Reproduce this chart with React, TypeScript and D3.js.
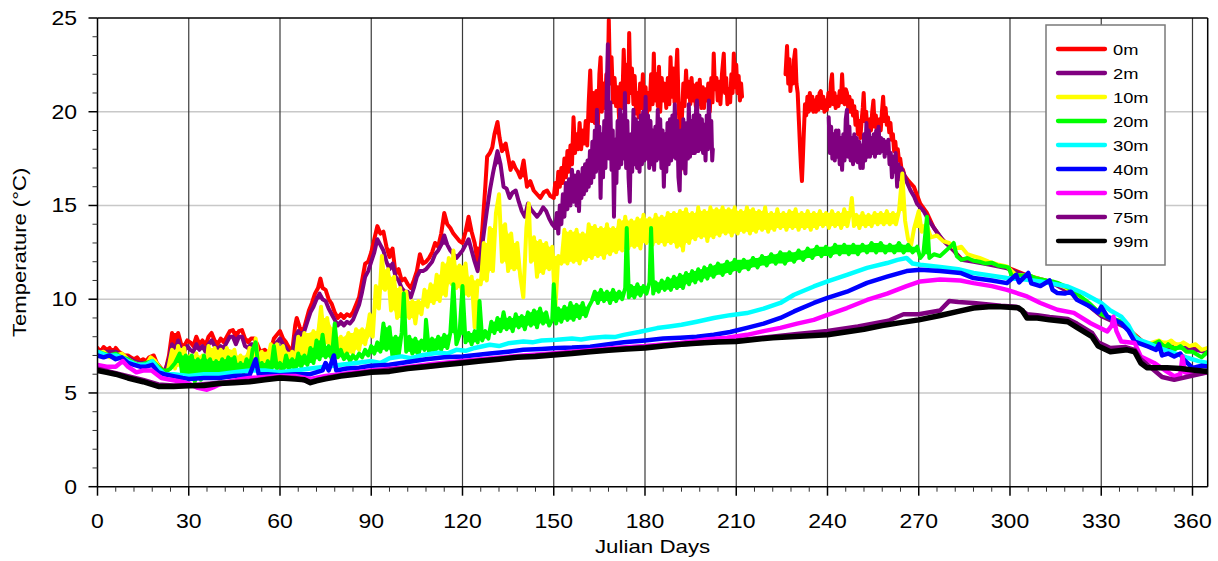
import React from 'react';
import * as d3 from 'd3';

type P = [number, number];
type Band = [number, number, number];

const xTicks = [0, 30, 60, 90, 120, 150, 180, 210, 240, 270, 300, 330, 360];
const yTicks = [0, 5, 10, 15, 20, 25];
const depthLabels = ['0m', '2m', '10m', '20m', '30m', '40m', '50m', '75m', '99m'];
const depthColors = ['#ff0000', '#800080', '#ffff00', '#00ff00', '#00ffff', '#0000ff', '#ff00ff', '#800080', '#000000'];

const t0m: P[] = [
  [0,7.4],[1,7.2],[2,7.45],[3,7.3],[4,7.4],[5,7.1],[6,7.4],[7,7.2],[8,7.1],[9,7.0],[10,7.0],[11,6.9],[12,6.8],[13,6.9],[14,6.7],[15,6.8],[16,6.7],[17,6.9],[18.5,7.0],[19.5,6.6],[20.5,6.4],[21.5,6.2],[22.5,6.3],[23.5,7.0],[24.5,8.2],[25.5,7.4],[26.5,8.2],[27.5,7.6],[28.5,7.5],[29.5,7.8],[30.5,7.7],[31.5,7.5],[32.5,8.0],[33.5,7.6],[34.5,7.8],[35.5,7.5],[36.5,8.0],[37.5,8.2],[38.5,7.8],[39.5,7.6],[40.5,7.9],[41.5,7.7],[42.5,8.0],[43.5,8.3],[44.5,8.35],[45.5,8.0],[46.5,8.3],[47.5,8.35],[48.5,7.9],[49.5,7.7],[50.5,7.9],[51.5,7.9],[52.5,7.6],[53.5,7.2],[55,7.3],[56,7.1],[57,7.3],[58,7.9],[59,8.1],[60,8.3],[61,7.9],[62,7.7],[63,7.4],[64,7.2],[65,8.6],[65.5,9.0],[66.5,8.5],[67.5,8.2],[68.5,8.8],[69.5,9.4],[70.5,9.8],[71.5,10.3],[72.5,10.6],[73.3,11.1],[74,10.6],[75,10.5],[76,10.0],[77,9.75],[78,9.3],[79,9.0],[80,9.2],[81,9.0],[82,9.2],[83,9.1],[84,9.3],[85,9.7],[86,10.1],[87,11.0],[88,11.9],[89,12.0],[90,12.5],[91,13.2],[92,13.9],[93,13.5],[94,13.6],[95,12.8],[96,12.25],[97,12.7],[98,11.35],[99,11.6],[100,11.0],[101,11.1],[102,10.8],[103,10.6],[104,11.0],[105,11.5],[106,12.4],[107,11.9],[108,12.0],[109,12.2],[110,12.5],[111,13.0],[112,12.8],[113,13.5],[114,14.6],[115,14.0],[116,13.8],[117,13.5],[118,13.3],[119,13.1],[120,13.0],[121,13.6],[122,14.4],[123,13.6],[124,13.0],[125,11.9],[126,12.8],[126.5,13.7],[127.5,16.0],[128.1,17.6],[129,17.8],[129.8,18.1],[130.5,18.8],[131.5,19.45],[132.2,18.6],[133,17.9],[134.2,18.3],[135,17.6],[135.8,16.9],[136.6,17.3],[137.4,17.0],[138.2,16.8],[139,16.5],[140.1,17.4],[141.2,16.0],[142.3,16.3],[143.4,15.8],[144.5,15.6],[145.6,15.4],[146.7,15.7],[147.8,15.8],[148.9,15.5],
  [150,15.4],[150.5,16.2],[151,15.6],[151.5,16.8],[152,16.0],[152.5,17.0],[153,16.2],[153.5,17.5],[154,16.5],[154.5,17.9],[155,16.8],[155.5,18.2],[156,17.2],[156.5,19.7],[157,17.8],[157.5,18.8],[158,18.0],[158.5,19.4],[159,18.0],[159.5,19.0],[160,18.3],[160.5,19.5],[161,18.2],[161.5,20.5],[162,22.2],[162.5,19.5],[163,21.0],[163.5,19.4],[164,21.1],[164.5,19.2],[165,22.0],[165.4,22.9],[165.8,20.0],[166.3,21.5],[166.8,20.2],[167.3,22.0],[167.7,20.8],[168.1,24.9],[168.5,21.5],[169,22.9],[169.5,20.5],[170,21.8],[170.5,20.3],[171,21.3],[171.5,19.6],[172,21.5],[172.5,20.2],[173,23.3],[173.5,20.8],[174,22.5],[174.5,20.5],[174.8,24.2],[175.2,21.0],[175.7,22.3],[176.2,20.4],[176.6,21.9],[177.1,19.9],[177.5,21.0],[177.9,19.7],[178.4,21.5],[178.8,20.2],[179.3,22.0],[179.7,20.0],[180.2,21.3],[180.6,19.8],[181.1,21.0],[181.5,20.1],[182,22.0],[182.5,20.4],[182.9,23.1],[183.3,20.6],[183.8,22.0],[184.2,20.3],[184.6,22.4],[185,20.0],[185.5,21.8],[186,20.6],[186.5,21.5],[187,20.2],[187.5,21.8],[188,20.4],[188.4,22.9],[188.8,20.8],[189.3,22.3],[189.7,20.5],[190.2,22.0],[190.6,23.3],[191,20.6],[191.4,19.0],[191.7,16.9],[192.1,19.5],[192.6,21.5],[193,20.3],[193.5,22.2],[193.9,20.8],[194.4,21.6],[194.9,20.4],[195.3,21.8],[195.8,20.6],[196.2,21.4],[196.7,20.3],[197.1,21.5],[197.6,20.4],[198,21.7],[198.5,20.2],[199,21.3],[199.4,20.2],[199.9,21.2],[200.4,20.6],[200.8,21.5],[201.3,20.0],[201.8,21.8],[202.2,20.5],[202.6,23.1],[203,21.2],[203.5,21.8],[203.9,20.6],[204.4,21.6],[204.8,20.4],[205.3,22.0],[205.9,23.1],[206.3,21.0],[206.7,21.8],[207.1,20.4],[207.5,21.2],[208,20.5],[208.4,22.0],[208.8,21.0],[209.2,23.1],[209.6,21.3],[210,22.5],[210.4,21.0],[210.8,21.9],[211.2,20.6],[211.6,21.5],[211.9,20.8],
  [219,NaN],
  [226.2,22.0],[226.7,23.5],[227.1,21.5],[227.5,22.8],[227.8,21.1],[228.2,22.0],[228.6,21.5],[229,22.8],[229.4,23.3],[229.8,21.5],[230.2,21.0],[230.6,19.5],[231,18.0],[231.3,17.0],[231.6,16.3],[231.9,17.5],[232.2,18.8],[232.6,20.4],[233,19.8],[233.4,20.8],[233.8,20.0],[234.2,21.0],[234.6,20.1],[235,20.8],[235.4,20.0],[235.8,20.6],[236.2,20.0],[236.6,20.8],[237,20.1],[237.4,21.0],[237.8,21.1],[238.2,20.2],[238.6,20.8],[239,20.0],[239.4,20.6],[239.8,20.1],[240.3,21.0],[240.7,20.3],[241.1,21.5],[241.5,22.0],[241.9,20.4],[242.3,21.0],[242.7,20.2],[243.2,20.8],[243.6,20.3],[244,21.1],[244.4,20.5],[244.8,22.0],[245.2,20.6],[245.6,20.4],[246,21.2],[246.4,21.0],[246.8,20.2],[247.2,20.8],[247.6,20.0],[248,20.6],[248.4,19.8],[248.8,20.3],[249.2,19.3],[249.6,20.0],[250,18.8],[250.4,19.5],[250.8,18.6],[251.2,19.5],[251.6,20.2],[251.9,21.0],[252.3,19.5],[252.7,20.0],[253.1,19.0],[253.5,18.6],[253.9,19.6],[254.3,19.0],[254.7,20.0],[255.1,20.6],[255.5,19.2],[255.9,19.8],[256.3,19.0],[256.7,18.8],[257.1,19.6],[257.5,19.0],[257.9,20.0],[258.3,20.8],[258.7,19.5],[259.1,20.2],[259.5,19.3],[259.9,19.7],[260.3,18.9],[260.7,19.4],[261.1,18.5],[261.5,18.8],[261.9,17.9],[262.3,18.4],[262.7,17.7],[263.1,18.0],[263.5,17.4],[263.9,17.5],[264.3,17.0],[264.8,16.9],[265.3,16.6],[266.7,16.3],[268.4,16.0],[270.5,15.1],[272.7,14.6],[275,13.8],[277.1,13.3],[279.3,12.95],[281.5,12.6],[284,12.15],[288,12.05],[293,11.9],[299,11.7],[306,11.25],[314,10.9],[322,10.2],[330,9.15],[338,8.55],[345,7.55],[351,7.45],[357,7.5],[365,7.2],
];

const t2m: P[] = [
  [0,7.2],[2,7.2],[4,7.2],[6,7.2],[8,7.0],[10,6.9],[12,6.7],[14,6.6],[16,6.6],[18,6.8],[20,6.3],[22,6.1],[23.5,6.8],[24.5,7.6],[25.5,7.2],[26.5,7.8],[27.5,7.3],[28.5,7.2],[29.5,7.5],[30.5,7.3],[31.5,7.2],[32.5,7.6],[33.5,7.3],[34.5,7.5],[35.5,7.2],[36.5,7.6],[37.5,7.8],[38.5,7.5],[39.5,7.3],[40.5,7.5],[41.5,7.4],[42.5,7.7],[43.5,8.0],[44.5,8.0],[45.5,7.6],[46.5,8.0],[47.5,8.0],[48.5,7.5],[49.5,7.4],[50.5,7.6],[51.5,7.6],[52.5,7.3],[53.5,7.0],[55,7.0],[56,6.9],[57,7.0],[58,7.5],[59,7.7],[60,7.9],[61,7.6],[62,7.4],[63,7.1],[64,7.0],[65,8.0],[66,8.3],[67,8.0],[68,8.3],[69,8.8],[70,9.3],[71,9.6],[72,10.0],[73,10.3],[74,10.0],[75,9.9],[76,9.5],[77,9.2],[78,8.9],[79,8.6],[80,8.8],[81,8.6],[82,8.8],[83,8.7],[84,8.9],[85,9.3],[86,9.7],[87,10.4],[88,11.2],[89,11.5],[90,12.0],[91,12.5],[92,13.2],[93,12.9],[94,12.6],[95,12.0],[96,11.6],[97,11.9],[98,11.2],[99,11.0],[100,10.6],[101,10.4],[102,10.4],[103,10.1],[104,10.6],[105,11.2],[106,11.5],[107,11.5],[108,11.6],[109,11.8],[110,12.0],[111,12.4],[112,12.6],[113,12.9],[114,13.4],[115,12.9],[116,12.6],[117,12.4],[118,12.2],[119,12.4],[120,12.6],[121,12.9],[122,13.2],[123,12.6],[124,12.0],[125,11.5],[126,12.3],[127,13.5],[128,14.7],[129,15.8],[130,16.7],[131.5,17.9],[132.5,17.2],[133.5,16.0],[134.5,15.9],[135.5,15.4],[136.5,15.7],[137.5,15.8],[138.5,15.2],[139.5,14.7],[140.5,14.4],[141.5,15.1],[142.5,14.8],[143.5,14.6],[144.5,14.4],[145.5,14.6],[146.5,14.9],[147.5,14.7],[148.5,14.3],[149.5,14.0],
  [150.5,13.8],[151,14.6],[151.5,13.5],[152,15.0],[152.5,14.0],[153,15.6],[153.5,14.4],[154,16.2],[154.5,14.8],[155,16.4],[155.5,15.0],[156,16.9],[156.5,15.2],[157,16.6],[157.5,15.0],[158,16.8],[158.3,14.7],[158.7,16.6],[159.1,15.4],[159.5,17.0],[159.9,15.6],[160.3,17.2],[160.7,15.8],[161.1,17.4],[161.5,16.0],[161.9,17.9],[162.3,16.2],[162.7,18.4],[163.1,16.5],[163.5,19.0],[163.9,16.8],[164.2,20.1],[164.6,17.0],[165,19.2],[165.4,15.4],[165.8,18.8],[166.2,16.5],[166.6,19.5],[167,17.0],[167.4,21.0],[167.8,23.6],[168.2,17.5],[168.6,20.5],[169,16.9],[169.4,19.0],[169.8,14.4],[170.2,18.5],[170.6,16.2],[171,19.5],[171.4,17.0],[171.8,20.1],[172.2,17.2],[172.6,19.8],[173,17.5],[173.4,21.0],[173.8,17.0],[174.2,19.5],[174.6,16.5],[175,15.2],[175.4,18.8],[175.8,16.8],[176.2,20.1],[176.6,17.2],[177,19.6],[177.4,17.0],[177.8,19.4],[178.2,16.8],[178.6,19.8],[179,17.2],[179.4,20.0],[179.8,17.4],[180.2,20.8],[180.6,17.5],[181,19.8],[181.4,17.0],[181.8,19.5],[182.2,17.2],[182.6,19.0],[183,16.9],[183.4,19.2],[183.8,17.4],[184.2,20.1],[184.6,17.5],[185,19.6],[185.4,17.0],[185.8,19.0],[186.2,16.0],[186.6,18.8],[187,16.8],[187.4,19.4],[187.8,17.2],[188.2,19.6],[188.6,17.4],[189,19.8],[189.4,17.6],[189.8,20.4],[190.2,17.5],[190.6,19.5],[191,16.5],[191.4,15.8],[191.8,19.0],[192.2,17.0],[192.6,19.6],[193,17.2],[193.3,16.7],[193.7,19.4],[194.1,17.5],[194.4,20.4],[194.8,17.6],[195.2,19.5],[195.6,17.8],[196,19.8],[196.4,17.8],[196.8,20.2],[197.1,20.6],[197.5,17.9],[197.9,19.8],[198.3,18.0],[198.7,19.6],[199.1,17.8],[199.5,19.3],[199.9,17.4],[200.3,19.8],[200.7,18.0],[201,20.6],[201.4,18.2],[201.8,19.5],[202.1,17.4],[202.3,18.0],
  [220,NaN],
  [240.4,19.7],[240.8,17.8],[241.2,19.2],[241.6,17.5],[242,18.8],[242.4,17.4],[242.8,19.0],[243.2,17.6],[243.6,19.0],[244,17.2],[244.4,18.6],[244.8,16.9],[245.2,18.8],[245.6,17.4],[246,19.6],[246.4,20.1],[246.8,17.6],[247.2,19.2],[247.6,17.4],[248,18.6],[248.4,17.2],[248.8,18.8],[249.2,17.4],[249.6,18.6],[250,17.3],[250.4,18.4],[250.8,17.0],[251.2,18.2],[251.6,17.0],[252,18.8],[252.4,17.4],[252.8,19.4],[253.2,17.6],[253.6,19.0],[254,17.6],[254.4,18.6],[254.8,17.8],[255.2,18.8],[255.6,17.6],[256,19.0],[256.4,17.8],[256.8,19.2],[257.2,17.8],[257.6,18.6],[258,17.9],[258.4,18.5],[258.8,17.6],[259.2,18.4],[259.6,17.8],[260,18.5],[260.4,17.2],[260.8,17.8],[261.2,16.5],[261.6,17.6],[262,16.8],[262.4,17.8],[262.9,16.0],[263.3,17.2],[263.7,16.4],[264.2,17.0],[265.1,16.7],[266.2,16.2],[267.3,15.8],[268.4,15.5],[269.4,15.1],[271.6,14.7],[273.3,14.2],[275,13.8],[278.2,13.1],[281.5,12.6],[284,12.1],[288,12.0],[293,11.85],[299,11.65],[306,11.2],[314,10.85],[322,10.15],[330,9.1],[338,8.5],[345,7.5],[351,7.4],[357,7.45],[365,7.15],
];

const t10m: P[] = [
  [0,7.1],[2,7.2],[4,6.9],[6,7.0],[8,7.1],[10,6.8],[12,6.6],[14,6.5],[16,6.5],[17.5,6.9],[19,6.7],[21,6.2],[23,6.1],[24.5,7.3],[25.5,6.3],[26.5,7.5],[27.5,6.4],[28.5,7.4],[29.5,6.2],[30.5,7.0],[31.5,6.0],[32.5,7.1],[33.5,5.8],[34.5,7.0],[35.5,6.1],[36.5,7.5],[37.5,6.3],[38.5,7.4],[39.5,6.2],[40.5,7.3],[41.5,6.4],[42.5,7.4],[44,6.3],[45,7.3],[46,6.4],[47,7.0],[48.5,6.3],[50,7.4],[51,6.5],[52,7.9],[53,6.6],[54,7.2],[55.5,6.4],[57,7.6],[58,6.5],[59,7.6],[60,6.6],[61,7.5],[62.5,6.4],[64,7.2],[65,6.7],[66,8.0],[67,6.8],[68,8.2],[69.5,7.0],[71,8.3],[72,7.3],[73.5,9.6],[74.5,7.6],[75.5,9.0],[77,7.2],[78,8.5],[79,6.9],[80,8.0],[81,7.0],[82.5,8.2],[84,7.1],[85,8.4],[86,7.3],[87,8.4],[88,7.6],[89.5,9.2],[90.5,8.0],[91.5,10.7],[92.5,9.5],[93.5,12.3],[94.5,10.5],[95.5,11.6],[96.5,9.4],[97.5,11.2],[98.5,9.0],[99.5,10.6],[100.5,8.9],[101.5,10.4],[102.5,9.0],[103.5,9.9],[104.5,8.7],[105.5,9.9],[106.5,9.2],[107.5,10.5],[108.5,9.6],[109.5,10.8],[110.5,9.8],[111.5,11.3],[112.5,9.9],[113.5,11.9],[114.5,10.2],[115.5,12.2],[116.5,10.8],[117,12.6],[118,10.6],[119,11.8],[120,10.1],[121,11.9],[122,10.2],[123,11.2],[124,8.5],[125,11.0],[126,10.8],[127,13.0],[128,11.0],[129,13.8],[130,11.5],[131,14.6],[132,15.6],[133,12.0],[134,14.0],[135,11.5],[136,13.5],[137,11.6],[138,13.0],[139,11.2],[140,10.1],[141,13.8],[141.8,15.1],[142.5,12.0],[143.5,13.3],[144.5,11.2],[145.5,13.1],[146.5,11.4],[147.5,13.0],[148.5,11.6],[149.5,12.8],[150.5,9.4],[151.5,12.3],[152.5,11.9],[153.5,13.7],[154.5,11.9],[155.5,13.6],[156.5,12.0],[157.5,13.7],[158.5,11.9],[159.5,13.5],[160.5,12.1],[161.5,14.0],[162.5,12.2],[163.5,13.9],[164.5,12.3],[165.5,13.8],[166.5,12.2],[167.5,14.0],[168.5,12.4],[169.5,13.8],[170.5,12.5],[171.5,14.2],[172.5,12.6],[173.5,14.4],[174.5,12.7],[175.5,14.2],[176.5,12.8],[177.5,14.3],[178.5,12.7],[179.5,14.5],[180.5,13.0],[181.5,14.3],[182.5,12.9],[183.5,14.5],[184.5,13.0],[185.5,14.4],[186.5,12.9],[187.5,14.6],[188.5,13.0],[189.5,14.6],[190.5,12.8],[191.5,14.7],[192.5,12.6],[193.5,14.8],[194.5,13.0],[195.5,14.6],[196.5,13.2],[197.5,14.9],[198.5,13.3],[199.5,14.7],[200.5,13.1],[201.5,14.9],[202.5,13.3],[203.5,14.8],[204.5,13.4],[205.5,14.9],[206.5,13.5],[207.5,14.8],[208.5,13.4],[209.5,14.9],[210.5,13.5],[211.5,14.7],[212.5,13.6],[213.5,14.9],[214.5,13.5],[215.5,14.8],[216.5,13.6],[217.5,14.7],[218.5,13.7],[219.5,14.9],[220.5,13.6],[221.5,14.6],[222.5,13.7],[223.5,14.8],[224.5,13.8],[225.5,14.6],[226.5,13.7],[227.5,14.7],[228.5,13.8],[229.5,14.8],[230.5,13.7],[231.5,14.6],[232.5,13.8],[233.5,14.7],[234.5,13.7],[235.5,14.6],[236.5,13.8],[237.5,14.7],[238.5,13.9],[239.5,14.6],[240.5,13.8],[241.5,14.7],[242.5,13.9],[243.5,14.6],[244.5,13.8],[245.5,14.8],[246.5,13.9],[247.5,14.7],[248,15.4],[248.7,13.9],[249.5,14.5],[250.5,13.8],[251.5,14.6],[252.5,13.9],[253.5,14.5],[254.5,13.9],[255.5,14.6],[256.5,14.0],[257.5,14.6],[258.5,14.0],[259.5,14.7],[260.5,14.0],[261.5,14.6],[262.5,14.0],[263.5,14.7],[264.6,16.7],[265.5,14.2],[266.5,13.2],[267.5,12.9],[268.5,13.8],[270,14.7],[271,13.6],[272.5,14.0],[274,13.3],[276,13.4],[278,13.1],[280,13.0],[282,12.7],[284,12.8],[286,12.4],[288,12.3],[290,12.2],[293,12.0],[296,11.85],[299,11.75],[302,11.3],[306,11.25],[310,11.05],[314,10.9],[318,10.65],[322,10.25],[326,9.75],[330,9.2],[334,8.95],[338,8.6],[342,7.9],[345,7.6],[347,7.7],[349,7.8],[351,7.6],[353,7.8],[355,7.5],[357,7.7],[359,7.5],[361,7.6],[363,7.3],[365,7.4],
];

const t20m: P[] = [
  [0,7.2],[2,7.1],[4,7.0],[6,7.1],[8,6.9],[10,6.8],[12,6.6],[14,6.5],[16,6.6],[18,6.7],[20,6.4],[22,6.1],[24,6.3],[25.5,6.6],[27,7.1],[28,5.8],[29,7.0],[30,5.7],[31,7.0],[32,5.6],[33,6.8],[34,5.7],[35,7.0],[36,5.9],[37,6.8],[38,6.0],[39,6.7],[40,6.0],[41,6.8],[42,6.1],[43,6.9],[44,6.0],[45,6.9],[46,6.0],[47,6.6],[48,6.1],[49,6.8],[50,6.2],[51,7.3],[52,7.7],[53,6.2],[54,6.6],[55,6.1],[56,6.7],[57,6.2],[58,7.5],[59,6.3],[60,6.6],[61,6.2],[62,7.0],[63,6.3],[64,6.8],[65,6.2],[66,7.1],[67,6.4],[68,7.0],[69,6.5],[70,7.4],[71,6.6],[72,7.8],[73,6.8],[74,8.1],[75,6.9],[76,7.5],[77,6.8],[78,8.7],[79,6.9],[80,7.3],[81,6.8],[82,7.1],[83,6.7],[84,7.0],[85,6.8],[86,7.1],[87,6.9],[88,7.3],[89,7.0],[90,7.5],[91,7.1],[92,7.7],[93,7.2],[94,8.7],[95,7.3],[96,8.5],[97,6.9],[98,8.0],[99,7.0],[100,8.2],[100.7,10.3],[101.5,7.2],[102.5,8.0],[103.5,7.1],[104.5,7.9],[105.5,7.0],[106.5,7.8],[107.5,7.3],[108,8.9],[109,7.2],[110,7.9],[111,7.2],[112,8.0],[113,7.3],[114,8.1],[115,7.4],[116,8.2],[117,10.8],[118,7.6],[119,8.1],[120,10.7],[121,7.7],[122,8.2],[123,7.6],[124,8.3],[125,7.7],[125.6,9.9],[126.5,7.8],[127.5,8.3],[128.5,7.9],[129.5,8.8],[130.5,8.2],[131.5,9.0],[132.5,8.3],[133.5,9.3],[134.5,8.4],[135.5,9.0],[136.5,8.3],[137.5,9.2],[138.5,8.5],[139.5,9.1],[140.5,8.4],[141.5,9.3],[142.5,8.6],[143.5,9.4],[144.5,8.5],[145.5,9.5],[146.5,8.7],[147.5,9.3],[148.5,8.6],[149.5,8.9],[150,10.8],[150.8,8.7],[151.5,9.5],[152.5,8.8],[153.5,9.6],[154.5,8.9],[155.5,9.8],[156.5,8.9],[157.5,9.7],[158.5,9.0],[159.5,9.8],[160.5,9.1],[161.5,9.6],[162.5,9.9],[163.5,10.4],[164.5,9.8],[165.5,10.5],[166.5,9.9],[167.5,10.4],[168.5,9.8],[169.5,10.5],[170.5,9.9],[171.5,10.4],[172.5,10.0],[173.5,10.6],[174,13.8],[174.7,10.1],[175.5,10.7],[176.5,10.1],[177.5,10.8],[178.5,10.2],[179.5,10.7],[180.5,10.3],[181.5,10.9],[182,13.8],[182.7,10.3],[183.5,10.9],[184.5,10.4],[185.5,11.0],[186.5,10.5],[187.5,11.1],[188.5,10.5],[189.5,11.2],[190.5,10.6],[191.5,11.3],[192.5,10.6],[193.5,11.4],[194.5,10.8],[195.5,11.5],[196.5,10.9],[197.5,11.6],[198.5,11.0],[199.5,11.7],[200.5,11.1],[201.5,11.8],[202.5,11.2],[204,11.9],[205.5,11.3],[207,12.0],[208,11.4],[209.5,12.1],[211,11.5],[212.5,12.1],[214,11.6],[215.5,12.2],[217,11.7],[218.5,12.3],[220,11.8],[221.5,12.4],[223,11.9],[224.5,12.5],[226,11.9],[227.5,12.5],[229,12.0],[230.5,12.6],[232,12.1],[233.5,12.7],[235,12.2],[236.5,12.8],[238,12.3],[239.5,12.8],[241,12.3],[242.5,12.9],[244,12.4],[245.5,12.9],[247,12.4],[248.5,12.9],[250,12.4],[251.5,12.9],[253,12.5],[254.5,13.0],[256,12.5],[257.5,13.0],[259,12.5],[260.5,12.9],[262,12.5],[263.5,13.0],[265,12.5],[266.5,12.9],[268,12.5],[269.5,12.8],[270.5,12.2],[271.5,12.4],[272.7,14.4],[273.5,12.2],[275,12.4],[277,12.3],[279,12.6],[281,12.9],[281.5,13.0],[282.5,12.3],[284,12.1],[286,12.2],[288,12.05],[290,12.0],[292,11.9],[294,11.95],[296,11.8],[298,11.75],[299.5,11.7],[300.7,11.2],[302,11.3],[304,11.25],[306,11.3],[308,11.15],[310,11.07],[312,11.0],[314,10.95],[316,10.85],[318,10.7],[320,10.55],[322,10.3],[324,10.05],[326,9.8],[328,9.5],[330,9.2],[332,9.05],[334,8.95],[336,8.85],[338,8.6],[340,8.2],[342,7.9],[344,7.7],[345.5,7.5],[347,7.6],[349,7.75],[351,7.4],[352,7.6],[354,7.3],[356,7.5],[358,7.2],[360,7.2],[362,7.0],[363,6.9],[365,7.2],
];

const t30m: P[] = [
  [0,7.2],[3,7.0],[6,7.0],[8,6.9],[10,6.7],[13,6.5],[16,6.5],[18,6.7],[20,6.3],[22,6.0],[25,6.0],[30,5.9],[35,6.0],[40,6.0],[45,6.1],[50,6.2],[55,6.2],[60,6.1],[65,6.2],[70,6.3],[75,6.4],[80,6.5],[85,6.6],[90,6.7],[93,6.6],[96,6.85],[100,6.95],[103,6.85],[107,7.03],[112,7.15],[115,7.1],[118,7.3],[121,7.25],[124,7.4],[129,7.57],[132,7.5],[135,7.65],[140,7.74],[143,7.7],[146,7.8],[151,7.84],[156,7.9],[159,7.85],[162,7.93],[167,8.0],[170,7.98],[173,8.1],[178,8.25],[184,8.46],[188,8.55],[192,8.64],[197,8.8],[202.6,9.0],[208,9.15],[213.5,9.26],[219,9.5],[224.5,9.8],[229,10.24],[235.5,10.68],[240,10.95],[246.4,11.3],[253,11.67],[259.6,11.93],[263,12.1],[266,12.2],[268,11.9],[270.5,11.84],[277,11.72],[283,11.6],[288,11.4],[294,11.25],[299,11.13],[305,11.05],[310,10.95],[315,10.8],[319,10.68],[324,10.33],[330,9.8],[333,9.4],[336.6,9.07],[339,8.6],[341,8.0],[343,7.8],[345.5,7.66],[349,7.4],[354,7.13],[358,6.9],[362,6.7],[365,6.6],
];

const t40m: P[] = [
  [0,7.0],[2,6.9],[4,7.0],[6,6.8],[8,6.9],[10,6.6],[12,6.5],[14,6.4],[16,6.4],[18,6.5],[20,6.1],[22,6.0],[25,5.9],[28,5.8],[30,5.75],[35,5.8],[40,5.8],[45,5.9],[50,5.95],[52,6.8],[53,6.0],[56,6.0],[60,5.95],[65,6.0],[70,6.0],[74,6.2],[75,6.6],[76,6.2],[77.7,7.0],[78.5,6.2],[82,6.3],[86,6.35],[90,6.45],[96,6.5],[102,6.65],[108,6.8],[114,6.9],[120,6.95],[126,7.05],[129,7.1],[135,7.2],[140,7.3],[146,7.35],[151,7.4],[156,7.42],[162,7.47],[168,7.6],[173,7.7],[180,7.8],[186,7.9],[191.6,7.95],[197,8.0],[202.6,8.1],[208,8.25],[213.5,8.47],[219,8.7],[224.5,9.0],[229,9.35],[235.5,9.8],[240,10.07],[246.4,10.4],[253,10.87],[259.6,11.2],[266,11.5],[270.5,11.57],[277,11.5],[283.7,11.4],[288,11.13],[294,11.0],[299,10.86],[302,11.3],[303,10.9],[306,11.4],[307,10.85],[310,10.7],[313,11.0],[314,10.5],[315.6,10.33],[318,10.3],[320,10.4],[322,9.97],[326.5,9.6],[329,9.3],[330,9.6],[332,9.07],[336.6,8.72],[339,8.3],[341,7.74],[345.5,7.47],[348,7.3],[349,7.6],[350,7.0],[352,7.1],[354,6.94],[356,7.1],[357,6.8],[360,6.34],[363,6.45],[365,6.41],
];

const t50m: P[] = [
  [0,6.5],[3,6.4],[6,6.4],[8.3,6.7],[10,6.4],[12.8,6.1],[15,6.2],[17.8,6.2],[21,5.8],[24,5.7],[27.6,5.6],[30,5.5],[33,5.27],[36,5.17],[38,5.3],[40,5.45],[43,5.6],[46,5.7],[50,5.8],[55,5.85],[60,5.9],[65,5.9],[70,5.75],[75,5.9],[80,6.0],[85,6.1],[90,6.2],[100,6.35],[110,6.55],[120,6.7],[130,6.85],[140,7.0],[150,7.12],[160,7.25],[170,7.4],[180,7.5],[191.6,7.67],[200,7.85],[207,7.95],[213.5,8.1],[219,8.3],[224.5,8.47],[230,8.7],[235.5,8.9],[240,9.16],[246.4,9.53],[253,9.96],[259.6,10.3],[266,10.7],[270.5,10.95],[277,11.05],[283.7,11.0],[288,10.86],[294,10.7],[299,10.5],[305.6,10.15],[310,9.8],[315.6,9.44],[321,9.27],[326.5,8.72],[332,8.28],[333.5,8.6],[334,9.07],[335,8.3],[336.6,7.74],[341,7.66],[343,6.95],[347.4,6.6],[351,6.2],[354,5.88],[356,6.0],[356.7,6.95],[357.5,6.1],[360,6.0],[365,6.1],
];

const t75m: P[] = [
  [0,6.3],[5,6.1],[10,5.9],[15,5.7],[20,5.45],[25,5.4],[30,5.4],[40,5.55],[50,5.65],[60,5.85],[65,5.8],[70,5.6],[75,5.8],[80,5.95],[90,6.15],[100,6.3],[120,6.65],[150,7.08],[180,7.45],[210,7.8],[230,8.15],[240,8.3],[250,8.55],[260,8.85],[265,9.2],[270,9.2],[277,9.4],[280,9.9],[283,9.85],[288,9.8],[297,9.65],[302,9.6],[305.6,9.2],[309,9.15],[313,9.05],[319,8.95],[322,8.7],[327,8.2],[329,7.7],[333,7.4],[338,7.45],[341,7.3],[343,6.8],[346,6.4],[350,5.85],[354,5.7],[358,5.85],[362,6.0],[365,6.1],
];

const t99m: P[] = [
  [0,6.2],[3,6.1],[6,6.0],[10,5.8],[15,5.6],[20,5.35],[25,5.35],[30,5.38],[35,5.4],[40,5.5],[45,5.55],[50,5.6],[55,5.7],[60,5.8],[65,5.75],[68,5.7],[70,5.55],[72,5.65],[75,5.75],[80,5.9],[85,6.0],[90,6.1],[96,6.15],[102,6.3],[108,6.4],[114,6.5],[120,6.6],[126,6.7],[132,6.8],[138,6.9],[144,6.95],[150,7.03],[156,7.1],[162,7.2],[168,7.28],[174,7.35],[180,7.4],[186,7.5],[192,7.6],[198,7.67],[204,7.72],[210,7.75],[216,7.85],[222,7.95],[228,8.0],[234,8.05],[240,8.1],[246,8.25],[252,8.4],[258,8.6],[264,8.75],[270,8.9],[277,9.13],[283,9.35],[288,9.53],[293,9.6],[297,9.6],[302.6,9.55],[304,9.4],[305.6,9.0],[309,9.0],[313,8.9],[319,8.8],[322,8.5],[327,8.0],[329,7.5],[333,7.2],[338.5,7.3],[341,7.2],[343,6.6],[345,6.35],[351.6,6.35],[356,6.3],[360,6.23],[365,6.15],
];

const seriesData: P[][] = [t0m, t2m, t10m, t20m, t30m, t40m, t50m, t75m, t99m];
const strokeWidths = [4, 4, 4, 4, 4.5, 4.5, 4.5, 4.5, 5.5];
const filledBand = [true, true, true, true, false, false, false, false, false];

const FONT = '"Liberation Sans", Arial, Helvetica, sans-serif';

// Envelope of a noisy trace: fills the gaps between its own zig-zag teeth.
function envelope(s: P[]): Band[] {
  return s.map((p, i) => {
    const v = p[1];
    if (isNaN(v)) return [p[0], NaN, NaN];
    const a0 = i > 0 ? s[i - 1][1] : v;
    const b0 = i < s.length - 1 ? s[i + 1][1] : v;
    const a = isNaN(a0) ? v : a0;
    const b = isNaN(b0) ? v : b0;
    return [p[0], Math.min(v, Math.max(a, b)), Math.max(v, Math.min(a, b))];
  });
}

function Txt(props: { x: number; y: number; size: number; anchor?: string; rot?: number; sx?: number; children: React.ReactNode }) {
  const { x, y, size, anchor = 'start', rot = 0, sx = 1.2, children } = props;
  return (
    <text
      transform={`translate(${x},${y}) rotate(${rot}) scale(${sx},1)`}
      textAnchor={anchor as any}
      fontSize={size}
      fontFamily={FONT}
      fill="#000"
    >
      {children}
    </text>
  );
}

export default function App() {
  const L = 97.5, R = 1207.7, T = 18, B = 486.7;
  const x = d3.scaleLinear().domain([0, 365]).range([L, R]);
  const y = d3.scaleLinear().domain([0, 25]).range([B, T]);
  const line = d3
    .line<P>()
    .defined((d) => !isNaN(d[1]))
    .x((d) => x(d[0]))
    .y((d) => y(d[1]));
  const area = d3
    .area<Band>()
    .defined((d) => !isNaN(d[1]))
    .x((d) => x(d[0]))
    .y0((d) => y(d[1]))
    .y1((d) => y(d[2]));

  const xMinor = d3.range(0, 366, 6).filter((v) => v % 30 !== 0);
  const yMinor = d3.range(0, 26, 1).filter((v) => v % 5 !== 0);

  const legX = 1046, legY = 25, legW = 119, legH = 240;
  const rowY0 = 49, rowStep = 24;

  return (
    <svg
      width={1218}
      height={561}
      style={{ position: 'absolute', left: 0, top: 0, display: 'block', background: '#fff' }}
    >
      <defs>
        <clipPath id="plotClip">
          <rect x={L} y={T - 2} width={R - L} height={B - T + 2} />
        </clipPath>
      </defs>
      <rect x={0} y={0} width={1218} height={561} fill="#fff" />
      {yTicks.filter((v) => v > 0 && v < 25).map((v) => (
        <line key={'hg' + v} x1={L} x2={R} y1={y(v)} y2={y(v)} stroke="#c8c8c8" strokeWidth={1.5} />
      ))}
      {xTicks.filter((v) => v > 0).map((v) => (
        <line key={'vg' + v} x1={x(v)} x2={x(v)} y1={T} y2={B} stroke="#3a3a3a" strokeWidth={1.2} />
      ))}
      <g clipPath="url(#plotClip)">
        {seriesData.map((s, i) => (
          <g key={depthLabels[i]}>
            {filledBand[i] && <path d={area(envelope(s)) || ''} fill={depthColors[i]} stroke="none" />}
            <path
              d={line(s) || ''}
              fill="none"
              stroke={depthColors[i]}
              strokeWidth={strokeWidths[i]}
              strokeLinejoin="round"
              strokeLinecap="round"
            />
          </g>
        ))}
      </g>
      <line x1={L} x2={R} y1={T} y2={T} stroke="#000" strokeWidth={1.5} />
      <line x1={R} x2={R} y1={T} y2={B} stroke="#000" strokeWidth={1.5} />
      <line x1={L} x2={L} y1={T} y2={B} stroke="#000" strokeWidth={1.5} />
      <line x1={L} x2={R} y1={B} y2={B} stroke="#000" strokeWidth={1.5} />
      {yTicks.map((v) => (
        <line key={'yt' + v} x1={L - 9} x2={L} y1={y(v)} y2={y(v)} stroke="#000" strokeWidth={1.5} />
      ))}
      {yMinor.map((v) => (
        <line key={'ym' + v} x1={L - 5} x2={L} y1={y(v)} y2={y(v)} stroke="#333" strokeWidth={1} />
      ))}
      {yTicks.map((v) => (
        <Txt key={'yl' + v} x={77} y={y(v) + 7} size={20} anchor="end" sx={1.15}>
          {String(v)}
        </Txt>
      ))}
      {xTicks.map((v) => (
        <line key={'xt' + v} x1={x(v)} x2={x(v)} y1={B} y2={B + 9} stroke="#000" strokeWidth={1.5} />
      ))}
      {xMinor.map((v) => (
        <line key={'xm' + v} x1={x(v)} x2={x(v)} y1={B} y2={B + 5} stroke="#333" strokeWidth={1} />
      ))}
      {xTicks.map((v) => (
        <Txt key={'xl' + v} x={x(v)} y={528} size={20} anchor="middle" sx={1.15}>
          {String(v)}
        </Txt>
      ))}
      <Txt x={(L + R) / 2} y={553} size={18} anchor="middle" sx={1.24}>
        Julian Days
      </Txt>
      <Txt x={26} y={(T + B) / 2} size={17.5} anchor="middle" rot={-90} sx={1.26}>
        Temperature (°C)
      </Txt>
      <rect x={legX} y={legY} width={legW} height={legH} fill="#fff" stroke="#7a7a7a" strokeWidth={1.5} />
      {depthLabels.map((lab, i) => (
        <g key={'lg' + lab}>
          <line
            x1={1058}
            x2={1105}
            y1={rowY0 + i * rowStep}
            y2={rowY0 + i * rowStep}
            stroke={depthColors[i]}
            strokeWidth={4.3}
            strokeLinecap="round"
          />
          <Txt x={1113} y={rowY0 + i * rowStep + 6} size={15.5} sx={1.18}>
            {lab}
          </Txt>
        </g>
      ))}
    </svg>
  );
}
